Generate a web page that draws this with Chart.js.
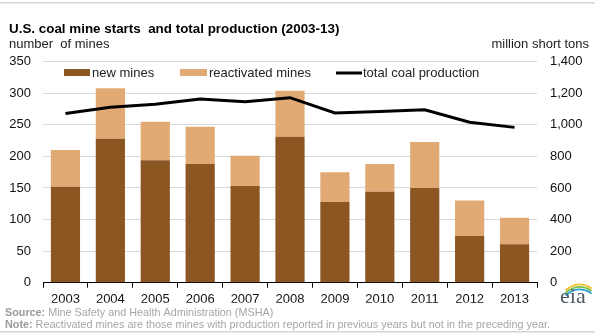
<!DOCTYPE html>
<html>
<head>
<meta charset="utf-8">
<script src="https://cdn.jsdelivr.net/npm/chart.js@4.4.1/dist/chart.umd.min.js"></script>
<style>
  html, body { margin: 0; padding: 0; background: #fff; }
  #wrap { width: 595px; height: 334px; position: relative; }
</style>
</head>
<body>
<div id="wrap"><canvas id="coal"></canvas></div>
<script>
const years = ["2003", "2004", "2005", "2006", "2007", "2008", "2009", "2010", "2011", "2012", "2013"];
// mine starts, number of mines
const newMines = [152, 228, 194, 188, 153, 231, 128, 144, 150, 74, 61];
const reactivatedMines = [58, 80, 61, 59, 48, 73, 47, 44, 73, 56, 42];
// million short tons
const totalProduction = [1072, 1112, 1131, 1163, 1147, 1172, 1075, 1084, 1096, 1016, 984];

const brown = "#8b5622";
const tan = "#e1aa74";
const font = "'Liberation Sans', Arial, sans-serif";

// titles, legend, footnotes and logo drawn straight onto the canvas
const framePlugin = {
  id: "frame",
  afterDraw(chart) {
    const ctx = chart.ctx;
    ctx.save();

    ctx.fillStyle = "#d4d4d4";
    ctx.fillRect(0, 2, 595, 1.5);
    ctx.fillRect(0, 331, 595, 1.5);

    ctx.textBaseline = "middle";
    ctx.fillStyle = "#000";
    ctx.font = "bold 13.4px " + font;
    ctx.textAlign = "left";
    ctx.fillText("U.S. coal mine starts  and total production (2003-13)", 9, 29);

    ctx.font = "13px " + font;
    ctx.fillStyle = "#222";
    ctx.fillText("number  of mines", 9, 44);
    ctx.textAlign = "right";
    ctx.fillText("million short tons", 589, 44);

    // legend
    ctx.textAlign = "left";
    ctx.fillStyle = brown;
    ctx.fillRect(64, 69, 26, 7);
    ctx.fillStyle = tan;
    ctx.fillRect(180, 69, 27, 7);
    ctx.fillStyle = "#000";
    ctx.fillRect(336, 71.5, 26, 3);
    ctx.fillStyle = "#222";
    ctx.fillText("new mines", 92, 73);
    ctx.fillText("reactivated mines", 209, 73);
    ctx.fillText("total coal production", 363, 73);

    // footnotes
    const fs = 10.8;
    ctx.font = "bold " + fs + "px " + font;
    ctx.fillStyle = "#9a9a9a";
    ctx.fillText("Source:", 5, 313);
    let w = ctx.measureText("Source: ").width;
    ctx.font = fs + "px " + font;
    ctx.fillStyle = "#a6a6a6";
    ctx.fillText("Mine Safety and Health Administration (MSHA)", 5 + w, 313);
    ctx.font = "bold " + fs + "px " + font;
    ctx.fillStyle = "#9a9a9a";
    ctx.fillText("Note:", 5, 325);
    w = ctx.measureText("Note: ").width;
    ctx.font = fs + "px " + font;
    ctx.fillStyle = "#a6a6a6";
    ctx.fillText("Reactivated mines are those mines with production reported in previous years but not in the preceding year.", 5 + w, 325);

    // eia mark
    ctx.lineCap = "round";
    const arcs = [["#f2c230", 284], ["#7cbf4a", 286.5], ["#2aa0d8", 289]];
    arcs.forEach(([c, y]) => {
      ctx.strokeStyle = c;
      ctx.lineWidth = 1.8;
      ctx.beginPath();
      ctx.moveTo(566, y + 6);
      ctx.quadraticCurveTo(578, y - 4, 591, y + 4);
      ctx.stroke();
    });
    ctx.font = "22px 'Liberation Serif', 'DejaVu Serif', serif";
    ctx.fillStyle = "#4d5a66";
    ctx.textBaseline = "alphabetic";
    ctx.fillText("eia", 560, 303);

    ctx.restore();
  }
};

new Chart(document.getElementById("coal"), {
  type: "bar",
  plugins: [framePlugin],
  data: {
    labels: years,
    datasets: [
      {
        type: "line",
        label: "total coal production",
        data: totalProduction,
        yAxisID: "y1",
        borderColor: "#000",
        borderWidth: 3,
        pointRadius: 0,
        tension: 0,
        order: 0
      },
      {
        label: "new mines",
        data: newMines,
        backgroundColor: brown,
        stack: "mines",
        barPercentage: 0.65,
        categoryPercentage: 1,
        order: 1
      },
      {
        label: "reactivated mines",
        data: reactivatedMines,
        backgroundColor: tan,
        stack: "mines",
        barPercentage: 0.65,
        categoryPercentage: 1,
        order: 1
      }
    ]
  },
  options: {
    responsive: true,
    maintainAspectRatio: false,
    animation: false,
    layout: { padding: { top: 61.7, bottom: 31.3, left: 0, right: 0 } },
    plugins: {
      legend: { display: false },
      tooltip: { enabled: false },
      title: { display: false }
    },
    scales: {
      x: {
        stacked: true,
        afterFit: (s) => { s.height = 20; },
        grid: {
          display: true,
          drawOnChartArea: false,
          drawTicks: true,
          tickLength: 5,
          color: "#000",
          offset: true
        },
        border: { display: true, color: "#000", width: 1 },
        ticks: { color: "#111", font: { family: font, size: 13 }, padding: 4 }
      },
      y: {
        stacked: true,
        position: "left",
        min: 0,
        max: 350,
        afterFit: (s) => { s.width = 43; },
        grid: { color: "#d9d9d9", drawTicks: false, lineWidth: 1 },
        border: { display: false },
        ticks: { stepSize: 50, color: "#111", font: { family: font, size: 13 }, padding: 12 }
      },
      y1: {
        position: "right",
        min: 0,
        max: 1400,
        afterFit: (s) => { s.width = 58; },
        grid: { display: false, drawTicks: false },
        border: { display: false },
        ticks: { stepSize: 200, color: "#111", font: { family: font, size: 13 }, padding: 13 }
      }
    }
  }
});
</script>
</body>
</html>
